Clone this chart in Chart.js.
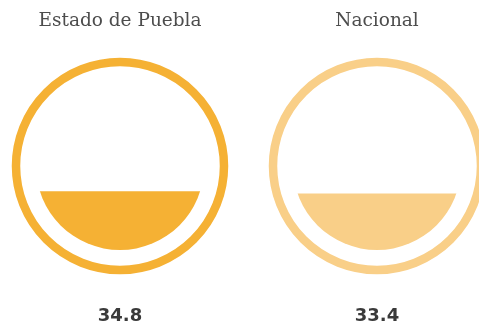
<!DOCTYPE html>
<html>
<head>
<meta charset="utf-8">
<script src="https://cdn.jsdelivr.net/npm/chart.js@4"></script>
<style>
  html, body { margin: 0; padding: 0; background: #fff; }
  #wrap { position: relative; width: 479px; height: 326px; overflow: hidden; }
  #wrap canvas { position: absolute; top: 0; }
</style>
</head>
<body>
<div id="wrap">
  <canvas id="gaugePuebla" width="260" height="326"></canvas>
  <canvas id="gaugeNacional" width="260" height="326"></canvas>
</div>
<script>
let regions = ['Estado de Puebla', 'Nacional'];
let values = [34.8, 33.4];
let colors = ['#f5b134', '#f9cf88'];
let centersX = [120, 377];

const CANVAS_W = 260;
const CY = 166;          // circle centre (y)
const FILL_R = 84;       // inner fill radius
const RING_R = 104;      // ring stroke centreline
const RING_W = 8.5;

// clip the bar to the inner circle, then draw the ring and the texts
let gaugePlugin = {
    id: 'gauge',
    beforeDatasetsDraw(chart) {
        let a = chart.chartArea;
        let cx = (a.left + a.right) / 2;
        let cy = (a.top + a.bottom) / 2;
        let ctx = chart.ctx;
        ctx.save();
        ctx.beginPath();
        ctx.arc(cx, cy, (a.bottom - a.top) / 2, 0, Math.PI * 2);
        ctx.clip();
    },
    afterDatasetsDraw(chart, args, opts) {
        let ctx = chart.ctx;
        ctx.restore();
        let a = chart.chartArea;
        let cx = (a.left + a.right) / 2;
        let cy = (a.top + a.bottom) / 2;

        ctx.save();
        ctx.beginPath();
        ctx.arc(cx, cy, RING_R, 0, Math.PI * 2);
        ctx.lineWidth = RING_W;
        ctx.strokeStyle = opts.color;
        ctx.stroke();

        ctx.textAlign = 'center';
        ctx.textBaseline = 'alphabetic';
        ctx.fillStyle = '#4d4d4d';
        ctx.font = '18.5px "DejaVu Serif"';
        ctx.fillText(chart.data.labels[0], cx, 26);

        ctx.fillStyle = '#3a3a3a';
        ctx.font = 'bold 18px "DejaVu Sans"';
        ctx.fillText(chart.data.datasets[0].data[0].toFixed(1), cx, 321);
        ctx.restore();
    }
};

function makeGauge(id, i) {
    let canvas = document.getElementById(id);
    canvas.style.left = (centersX[i] - CANVAS_W / 2) + 'px';
    let pad = CANVAS_W / 2 - FILL_R;
    return new Chart(canvas.getContext('2d'), {
        type: 'bar',
        data: {
            labels: [regions[i]],
            datasets: [{
                data: [values[i]],
                backgroundColor: colors[i],
                borderWidth: 0,
                barPercentage: 1,
                categoryPercentage: 1
            }]
        },
        options: {
            responsive: false,
            animation: false,
            devicePixelRatio: 1,
            layout: {
                padding: { left: pad, right: pad, top: CY - FILL_R, bottom: 326 - CY - FILL_R }
            },
            scales: {
                x: { display: false },
                y: { display: false, min: 0, max: 100 }
            },
            plugins: {
                legend: { display: false },
                tooltip: { enabled: false },
                gauge: { color: colors[i] }
            }
        },
        plugins: [gaugePlugin]
    });
}

makeGauge('gaugePuebla', 0);
makeGauge('gaugeNacional', 1);
</script>
</body>
</html>
